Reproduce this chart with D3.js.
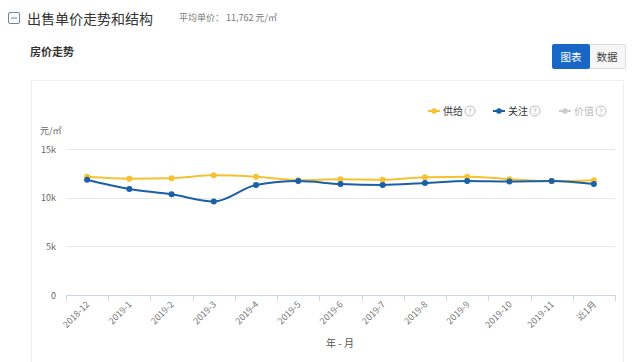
<!DOCTYPE html>
<html>
<head>
<meta charset="utf-8">
<script src="https://cdn.jsdelivr.net/npm/d3@7"></script>
<style>
  html, body { margin: 0; padding: 0; background: #fff; }
  body { width: 640px; height: 362px; overflow: hidden; font-family: "Noto Sans CJK SC", "Noto Sans", sans-serif; }
</style>
</head>
<body>
<script>
// Monthly categories and unit prices (元/㎡)
const months = ['2018-12', '2019-1', '2019-2', '2019-3', '2019-4', '2019-5', '2019-6',
  '2019-7', '2019-8', '2019-9', '2019-10', '2019-11', '近1月'];
const supply = [12150, 11950, 12000, 12300, 12150, 11800, 11900, 11850, 12100, 12150, 11900, 11700, 11800];
const attention = [11850, 10900, 10350, 9600, 11300, 11700, 11400, 11300, 11500, 11700, 11650, 11700, 11400];
const yTicks = [0, 5000, 10000, 15000];
const yTickLabels = ['0', '5k', '10k', '15k'];
const legendItems = [
  { name: '供给', color: '#f6c133' },
  { name: '关注', color: '#1b5fa5' },
  { name: '价值', color: '#cccccc' }
];

const w = 640, h = 362;
const font = '"Noto Sans CJK SC", "Noto Sans", sans-serif';

const svg = d3.select('body').append('svg')
  .attr('width', w)
  .attr('height', h)
  .style('display', 'block')
  .attr('font-family', font);

// Header
const head = svg.append('g');
head.append('rect')
  .attr('x', 8.5).attr('y', 12.5).attr('width', 11).attr('height', 11)
  .attr('rx', 1.5)
  .attr('fill', 'none').attr('stroke', '#6b84a8').attr('stroke-width', 1);
head.append('line')
  .attr('x1', 11).attr('x2', 17).attr('y1', 18).attr('y2', 18)
  .attr('stroke', '#6b84a8').attr('stroke-width', 1);
head.append('text')
  .attr('x', 27).attr('y', 24)
  .attr('font-size', 14).attr('fill', '#333')
  .text('出售单价走势和结构');
head.append('text')
  .attr('x', 179).attr('y', 21)
  .attr('font-size', 9).attr('fill', '#777')
  .text('平均单价： 11,762 元/㎡');
head.append('text')
  .attr('x', 30).attr('y', 56)
  .attr('font-size', 11).attr('font-weight', 700).attr('fill', '#333')
  .text('房价走势');

// Toggle buttons
head.append('rect')
  .attr('x', 588.5).attr('y', 44.5).attr('width', 37).attr('height', 24)
  .attr('rx', 2)
  .attr('fill', '#f6f6f6').attr('stroke', '#ddd');
head.append('rect')
  .attr('x', 552).attr('y', 44).attr('width', 38).attr('height', 25)
  .attr('rx', 2)
  .attr('fill', '#1a66c6');
head.append('text')
  .attr('x', 571).attr('y', 60.5).attr('text-anchor', 'middle')
  .attr('font-size', 10.5).attr('fill', '#fff')
  .text('图表');
head.append('text')
  .attr('x', 607).attr('y', 60.5).attr('text-anchor', 'middle')
  .attr('font-size', 10.5).attr('fill', '#444')
  .text('数据');

// Panel frame
svg.append('rect')
  .attr('x', 31.5).attr('y', 80.5).attr('width', 592).attr('height', 300)
  .attr('fill', 'none').attr('stroke', '#eeeeee');

// Scales
const x = d3.scaleBand().domain(months).range([66, 615]);
const y = d3.scaleLinear().domain([0, 15000]).range([295, 149]);
const cx = d => x(d) + x.bandwidth() / 2;

// Grid lines and y labels
svg.append('g')
  .selectAll('line')
  .data(yTicks.filter(d => d > 0))
  .join('line')
  .attr('x1', 66).attr('x2', 615)
  .attr('y1', d => Math.round(y(d)) + 0.5).attr('y2', d => Math.round(y(d)) + 0.5)
  .attr('stroke', '#e8e8e8');

svg.append('g')
  .selectAll('text')
  .data(yTicks)
  .join('text')
  .attr('x', 56).attr('y', d => y(d) + 3.5)
  .attr('text-anchor', 'end')
  .attr('font-size', 9).attr('fill', '#666')
  .text((d, i) => yTickLabels[i]);

svg.append('text')
  .attr('x', 40).attr('y', 134)
  .attr('font-size', 9).attr('fill', '#666')
  .text('元/㎡');

// X axis
const xAxis = svg.append('g');
xAxis.append('line')
  .attr('x1', 66).attr('x2', 615)
  .attr('y1', 295.5).attr('y2', 295.5)
  .attr('stroke', '#ccd6eb');
xAxis.selectAll('line.tick')
  .data(months.map(m => x(m)).concat([615]))
  .join('line')
  .attr('class', 'tick')
  .attr('x1', d => Math.round(d) + 0.5).attr('x2', d => Math.round(d) + 0.5)
  .attr('y1', 295).attr('y2', 301)
  .attr('stroke', '#ccd6eb');
xAxis.selectAll('text')
  .data(months)
  .join('text')
  .attr('transform', d => `translate(${cx(d) + 3},${305}) rotate(-45)`)
  .attr('text-anchor', 'end')
  .attr('font-size', 9).attr('fill', '#777')
  .text(d => d);

svg.append('text')
  .attr('x', 340).attr('y', 347)
  .attr('text-anchor', 'middle')
  .attr('font-size', 10).attr('fill', '#555')
  .text('年 - 月');

// Series
const line = d3.line()
  .x((d, i) => cx(months[i]))
  .y(d => y(d))
  .curve(d3.curveMonotoneX);

const series = [
  { values: supply, color: legendItems[0].color },
  { values: attention, color: legendItems[1].color }
];

series.forEach(s => {
  const g = svg.append('g');
  g.append('path')
    .attr('d', line(s.values))
    .attr('fill', 'none')
    .attr('stroke', s.color)
    .attr('stroke-width', 2);
  g.selectAll('circle')
    .data(s.values)
    .join('circle')
    .attr('cx', (d, i) => cx(months[i]))
    .attr('cy', d => y(d))
    .attr('r', 3)
    .attr('fill', s.color);
});

// Legend
const legendX = [428, 493, 559];
const legend = svg.append('g')
  .selectAll('g')
  .data(legendItems)
  .join('g')
  .attr('transform', (d, i) => `translate(${legendX[i]},111)`);
legend.append('line')
  .attr('x1', 0).attr('x2', 12)
  .attr('stroke', d => d.color).attr('stroke-width', 2);
legend.append('circle')
  .attr('cx', 6).attr('r', 2.8)
  .attr('fill', d => d.color);
legend.append('text')
  .attr('x', 15).attr('y', 4)
  .attr('font-size', 10)
  .attr('fill', (d, i) => i === 2 ? '#bbb' : '#333')
  .text(d => d.name);
legend.append('circle')
  .attr('cx', 42).attr('r', 5)
  .attr('fill', 'none').attr('stroke', '#bbb');
legend.append('text')
  .attr('x', 42).attr('y', 3)
  .attr('text-anchor', 'middle')
  .attr('font-size', 7).attr('fill', '#aaa')
  .text('?');
</script>
</body>
</html>
